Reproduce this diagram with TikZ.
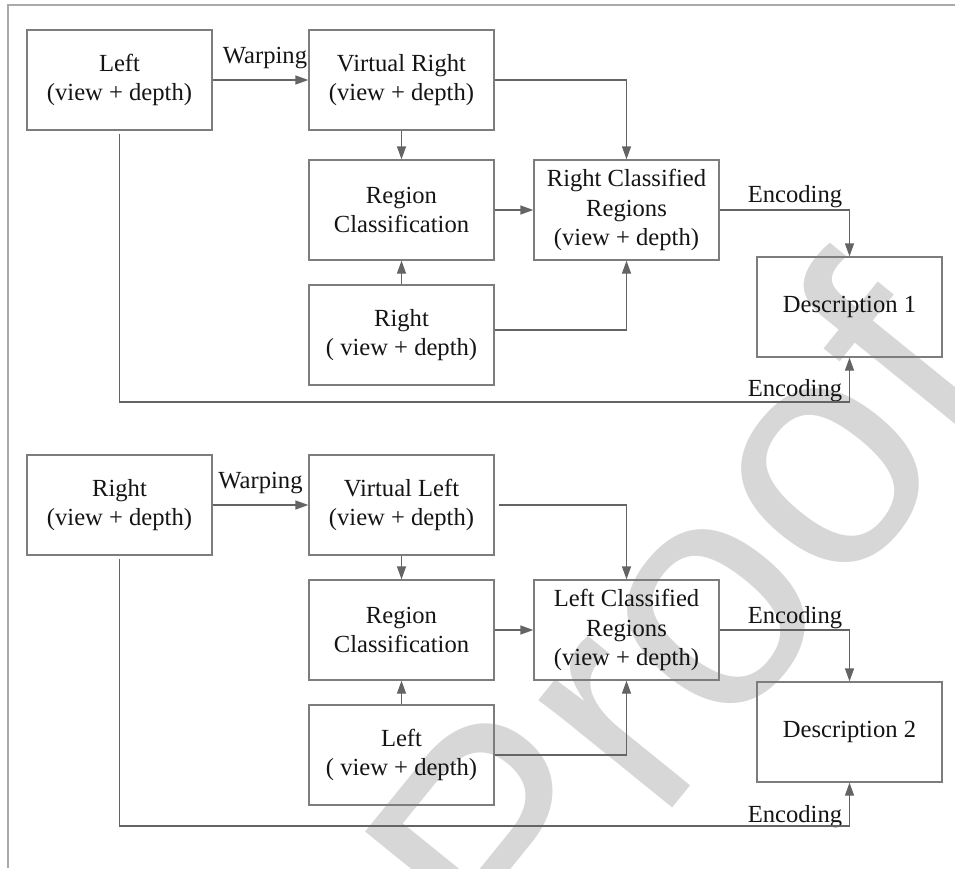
\documentclass[tikz,border=0pt]{standalone}
\usepackage{fontspec}
\setmainfont{Liberation Serif}
\newfontfamily\wmfont{Liberation Sans}
\usetikzlibrary{arrows.meta,calc}
\definecolor{linegray}{RGB}{100,100,100}
\definecolor{boxgray}{RGB}{125,125,125}
\definecolor{framegray}{RGB}{170,170,170}
\definecolor{wmgray}{RGB}{215,215,215}
\definecolor{ink}{RGB}{20,20,20}
\begin{document}
\begin{tikzpicture}[x=1pt,y=-1pt,
  txt/.style={text=ink, font=\fontsize{24.6}{29.5}\selectfont},
  box/.style={txt, draw=boxgray, line width=1.3pt, minimum width=185pt,
    minimum height=100pt, inner sep=0pt, align=center},
  lbl/.style={txt, anchor=base, inner sep=0pt},
  conn/.style={draw=linegray, line width=1.3pt,
    -{Triangle[length=13pt,width=9pt]}},
  frame/.style={draw=framegray, line width=1.2pt},
]
\useasboundingbox (0,0) rectangle (955,868);

% watermark behind everything
\node[anchor=base west, inner sep=0pt, rotate=51, text=wmgray,
  font=\wmfont\fontsize{325}{390}\selectfont] (wm) at (522,994) {Proof};

% page frame
\draw[frame] (8,868) -- (8,5) -- (955,5);

% ---------- upper chain: left view as reference ----------
\node[box] (left1)  at (119.5,80)  {Left\\(view + depth)};
\node[box] (vr)     at (401.5,80)  {Virtual Right\\(view + depth)};
\node[box] (rc1)    at (401.5,210) {Region\\Classification};
\node[box] (right1) at (401.5,335) {Right\\( view + depth)};
\node[box] (rcr)    at (626.5,210) {Right Classified\\Regions\\(view + depth)};
\node[box] (d1)     at (849.5,307) {Description 1};

\node[lbl] (warp1) at (265,63)  {Warping};
\node[lbl] (enc1a) at (795,202) {Encoding};
\node[lbl] (enc1b) at (795,396) {Encoding};

\coordinate (turn1) at (849.5,402);

\draw[conn] (left1.east) -- (vr.west);
\draw[conn] (vr.south) -- (rc1.north);
\draw[conn] (right1.north) -- (rc1.south);
\draw[conn] (vr.east) -| (rcr.north);
\draw[conn] (rc1.east) -- (rcr.west);
\draw[conn] ([yshift=5pt]right1.east) -| (rcr.south);
\draw[conn] (rcr.east) -| (d1.north);
\draw[conn] ([yshift=-3pt]left1.south) |- (turn1) -- (d1.south);

% ---------- lower chain: right view as reference ----------
\node[box] (right2) at (119.5,505) {Right\\(view + depth)};
\node[box] (vl)     at (401.5,505) {Virtual Left\\(view + depth)};
\node[box] (rc2)    at (401.5,630) {Region\\Classification};
\node[box] (left2)  at (401.5,755) {Left\\( view + depth)};
\node[box] (lcr)    at (626.5,630) {Left Classified\\Regions\\(view + depth)};
\node[box] (d2)     at (849.5,732) {Description 2};

\node[lbl] (warp2) at (260.5,488) {Warping};
\node[lbl] (enc2a) at (795,623)   {Encoding};
\node[lbl] (enc2b) at (795,822)   {Encoding};

\coordinate (turn2) at (849.5,826);

\draw[conn] (right2.east) -- (vl.west);
\draw[conn] (vl.south) -- (rc2.north);
\draw[conn] (left2.north) -- (rc2.south);
\draw[conn] ([xshift=4pt]vl.east) -| (lcr.north);
\draw[conn] (rc2.east) -- (lcr.west);
\draw[conn] (left2.east) -| (lcr.south);
\draw[conn] (lcr.east) -| (d2.north);
\draw[conn] ([yshift=-3pt]right2.south) |- (turn2) -- (d2.south);
\end{tikzpicture}
\end{document}
